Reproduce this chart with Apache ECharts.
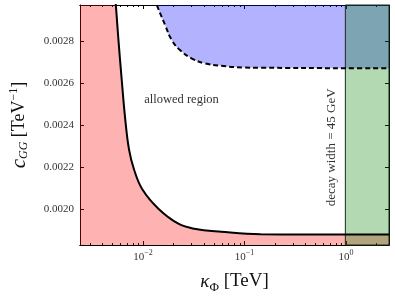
<!DOCTYPE html>
<html><head><meta charset="utf-8">
<script src="https://cdn.jsdelivr.net/npm/echarts@6/dist/echarts.min.js"></script>
<style>html,body{margin:0;padding:0;background:#fff}#c{width:395px;height:299px}</style>
</head><body><div id="c"></div>
<script>
// axis ranges
const xMin = 0.0024, xMax = 2.65;
const yMin = 0.00183, yMax = 0.00297;
const yTickValues = [0.0020, 0.0022, 0.0024, 0.0026, 0.0028];
const xMajorTicks = [0.01, 0.1, 1];
const xMinorTicks = [0.003,0.004,0.005,0.006,0.007,0.008,0.009,0.02,0.03,0.04,0.05,0.06,0.07,0.08,0.09,0.2,0.3,0.4,0.5,0.6,0.7,0.8,0.9,2];
// lower bound (solid curve, red excluded region below)
const lowerX = [0.0024, 0.00541, 0.00574, 0.00618, 0.00667, 0.00729, 0.00816, 0.00982, 0.01429, 0.02233, 0.03214, 0.0589, 0.144, 0.40, 0.965, 2.65];
const lowerY = [0.0050, 0.002968, 0.002803, 0.002615, 0.002435, 0.002284, 0.00219, 0.002096, 0.002001, 0.001931, 0.001907, 0.001893, 0.001881, 0.00188, 0.00188, 0.00188];
// upper bound (dashed curve, blue excluded region above)
const upperX = [0.0120, 0.01374, 0.01656, 0.01923, 0.02314, 0.03006, 0.04046, 0.0589, 0.0991, 0.144, 0.965, 2.65];
const upperY = [0.00304, 0.002968, 0.002874, 0.002803, 0.002756, 0.002717, 0.002693, 0.002681, 0.002673, 0.002672, 0.00267, 0.00267];
// decay width limit
const decayX = 0.985;
const allowedPos = [0.024, 0.00252];
const decayLabelPos = [0.713, 0.002294];

const FONT = 'Liberation Serif';
const lowerData = lowerX.map((x, i) => [x, lowerY[i]]);
const upperData = upperX.map((x, i) => [x, upperY[i]]);

const chart = echarts.init(document.getElementById('c'), null, {renderer: 'canvas'});
const axisLine = {show: true, onZero: false, lineStyle: {color: '#000', width: 1}};
const fmtX = v => { const e = Math.round(Math.log10(v)); return '{b|10}{s|' + (e < 0 ? '\u2212' + (-e) : e) + '}'; };

const baseX = {
  type: 'log', logBase: 10, min: xMin, max: xMax,
  axisLine: axisLine, splitLine: {show: false}
};
const baseY = {
  type: 'value', min: yMin, max: yMax,
  axisLine: axisLine, splitLine: {show: false}
};

chart.setOption({
  animation: false,
  grid: {left: 77, top: 5, right: 6, bottom: 53, show: false},
  xAxis: [
    Object.assign({}, baseX, {
      position: 'bottom',
      axisTick: {show: true, inside: true, length: 4, lineStyle: {color: '#000'}, customValues: xMajorTicks},
      axisLabel: {customValues: xMajorTicks, formatter: fmtX, margin: 4, color: '#333', fontFamily: FONT,
        rich: {b: {fontSize: 11, fontFamily: FONT, color: '#333', lineHeight: 14, verticalAlign: 'bottom'},
               s: {fontSize: 8, fontFamily: FONT, color: '#333', lineHeight: 8, verticalAlign: 'top'}}},
      name: '{k|\u03BA}{sub|\u03A6}{n| [TeV]}', nameLocation: 'middle', nameGap: 27,
      nameTextStyle: {rich: {
        k: {fontSize: 19, fontFamily: FONT, fontStyle: 'italic', color: '#111', lineHeight: 22, verticalAlign: 'top'},
        sub: {fontSize: 13, fontFamily: FONT, color: '#111', lineHeight: 22, verticalAlign: 'bottom'},
        n: {fontSize: 19, fontFamily: FONT, color: '#111', lineHeight: 22, verticalAlign: 'top'}}}
    }),
    Object.assign({}, baseX, {
      position: 'top',
      axisTick: {show: true, inside: true, length: 4, lineStyle: {color: '#000'}, customValues: xMajorTicks},
      axisLabel: {show: false}
    }),
    Object.assign({}, baseX, {
      position: 'bottom',
      axisTick: {show: true, inside: true, length: 2, lineStyle: {color: '#000'}, customValues: xMinorTicks},
      axisLabel: {show: false}
    }),
    Object.assign({}, baseX, {
      position: 'top',
      axisTick: {show: true, inside: true, length: 2, lineStyle: {color: '#000'}, customValues: xMinorTicks},
      axisLabel: {show: false}
    })
  ],
  yAxis: [
    Object.assign({}, baseY, {
      position: 'left',
      axisTick: {show: true, inside: true, length: 4, lineStyle: {color: '#000'}, customValues: yTickValues},
      axisLabel: {customValues: yTickValues, formatter: v => v.toFixed(4), fontSize: 11, fontFamily: FONT, color: '#333', margin: 6},
      name: '{c|c}{sub|GG}{n| [TeV}{sup|\u22121}{n|]}', nameLocation: 'middle', nameRotate: 90, nameGap: 50,
      nameTextStyle: {rich: {
        c: {fontSize: 21, fontFamily: FONT, fontStyle: 'italic', color: '#111', lineHeight: 22, verticalAlign: 'middle'},
        sub: {fontSize: 12, fontFamily: FONT, fontStyle: 'italic', color: '#111', lineHeight: 12, verticalAlign: 'bottom'},
        sup: {fontSize: 12, fontFamily: FONT, color: '#111', lineHeight: 12, verticalAlign: 'top'},
        n: {fontSize: 18, fontFamily: FONT, color: '#111', lineHeight: 22, verticalAlign: 'middle'}}}
    }),
    Object.assign({}, baseY, {
      position: 'right',
      axisTick: {show: true, inside: true, length: 4, lineStyle: {color: '#000'}, customValues: yTickValues},
      axisLabel: {show: false}
    })
  ],
  series: [
    {type: 'line', data: lowerData, symbol: 'none', smooth: 0.4,
     lineStyle: {width: 0}, areaStyle: {color: 'rgba(255,0,0,0.3)', origin: 'start', opacity: 1}, z: 1},
    {type: 'line', data: upperData, symbol: 'none', smooth: 0.4,
     lineStyle: {width: 0}, areaStyle: {color: 'rgba(0,0,255,0.3)', origin: 'end', opacity: 1}, z: 1},
    {type: 'line', data: [], z: 5,
     markArea: {silent: true, z: 5, itemStyle: {color: 'rgba(0,128,0,0.3)', opacity: 1, borderColor: '#1a2a1a', borderWidth: 1},
       data: [[{xAxis: decayX}, {xAxis: xMax}]]}},
    {type: 'line', data: lowerData, symbol: 'none', smooth: 0.4,
     lineStyle: {color: '#000', width: 2}, z: 6},
    {type: 'line', data: upperData, symbol: 'none', smooth: 0.4,
     lineStyle: {color: '#000', width: 2, type: [5, 3]}, z: 6}
  ]
});

const pA = chart.convertToPixel({gridIndex: 0}, allowedPos);
const pD = chart.convertToPixel({gridIndex: 0}, decayLabelPos);
chart.setOption({
  graphic: [
    {type: 'text', x: pA[0], y: pA[1], z: 10,
     style: {text: 'allowed region', fontSize: 12.5, fontFamily: FONT, fill: '#333', align: 'center', verticalAlign: 'middle'}},
    {type: 'text', x: pD[0], y: pD[1], rotation: Math.PI / 2, z: 10,
     style: {text: 'decay width = 45 GeV', fontSize: 13, fontFamily: FONT, fill: '#333', align: 'center', verticalAlign: 'middle'}}
  ]
});
</script>
</body></html>
